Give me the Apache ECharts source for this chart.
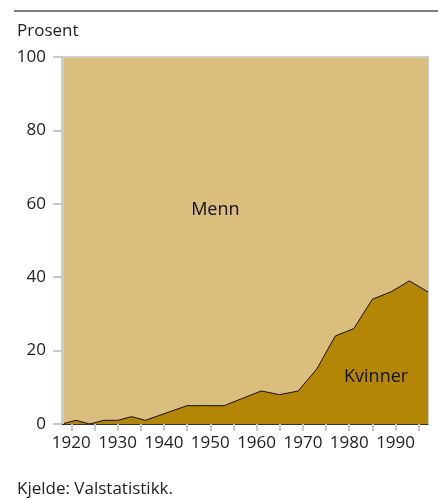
<!DOCTYPE html>
<html><head><meta charset="utf-8">
<script src="https://cdn.jsdelivr.net/npm/echarts@6/dist/echarts.min.js"></script>
<style>html,body{margin:0;padding:0;background:#fff}#c{width:438px;height:499px}</style>
</head><body><div id="c"></div>
<script>
const years = [1918,1921,1924,1927,1930,1933,1936,1945,1949,1953,1957,1961,1965,1969,1973,1977,1981,1985,1989,1993,1997];
const women = [0,1,0,1,1,2,1,5,5,5,7,9,8,9,15,24,26,34,36,39,36];
const men = women.map(v => 100 - v);
const xLabelValues = [1920,1930,1940,1950,1960,1970,1980,1990];
const xTickValues = [1920,1925,1930,1935,1940,1945,1950,1955,1960,1965,1970,1975,1980,1985,1990,1995];
const font = '"Open Sans", "Noto Sans", sans-serif';
const chart = echarts.init(document.getElementById('c'), null, {renderer:'canvas'});
chart.setOption({
  animation:false,
  grid:{left:62,right:10,top:57,bottom:75,show:true,borderColor:'#cccccc',borderWidth:2,backgroundColor:'transparent'},
  xAxis:{type:'value',min:1918,max:1997,z:5,
    axisLine:{show:true,onZero:false,lineStyle:{color:'#333',width:1}},
    axisTick:{show:true,length:7,customValues:xTickValues,lineStyle:{color:'#c8c8c8',width:2}},
    axisLabel:{customValues:xLabelValues,margin:11,fontSize:17,color:'#222',fontFamily:font,formatter:v=>String(v)},
    splitLine:{show:false}},
  yAxis:{type:'value',min:0,max:100,interval:20,z:5,
    axisLine:{show:true,onZero:false,lineStyle:{color:'#cccccc',width:3}},
    axisTick:{show:true,length:9,lineStyle:{color:'#c8c8c8',width:2}},
    axisLabel:{margin:16,fontSize:17,color:'#222',fontFamily:font},
    splitLine:{show:false}},
  series:[
    {name:'Menn',type:'line',symbol:'none',data:years.map((y,i)=>[y,women[i]+men[i]]),
     lineStyle:{color:'#cccccc',width:2},areaStyle:{color:'#dbbd7e',opacity:1},z:1,
     markPoint:{symbol:'circle',symbolSize:0,data:[{coord:[1951.1,58.3],label:{show:true,formatter:'Menn',fontSize:18,color:'#111',fontFamily:font}}]}},
    {name:'Kvinner',type:'line',symbol:'none',data:years.map((y,i)=>[y,women[i]]),
     lineStyle:{color:'#111',width:1},areaStyle:{color:'#b38705',opacity:1},z:3,
     markPoint:{symbol:'circle',symbolSize:0,data:[{coord:[1985.8,12.8],label:{show:true,formatter:'Kvinner',fontSize:18,color:'#111',fontFamily:font}}]}}
  ],
  graphic:[
    {type:'line',shape:{x1:14,y1:11,x2:438,y2:11},style:{stroke:'#555',lineWidth:1.5}},
    {type:'text',left:17,top:23,style:{text:'Prosent',fontSize:17,fill:'#222',fontFamily:font}},
    {type:'text',left:17,top:481,style:{text:'Kjelde: Valstatistikk.',fontSize:17,fill:'#222',fontFamily:font}}
  ]
});
</script></body></html>
